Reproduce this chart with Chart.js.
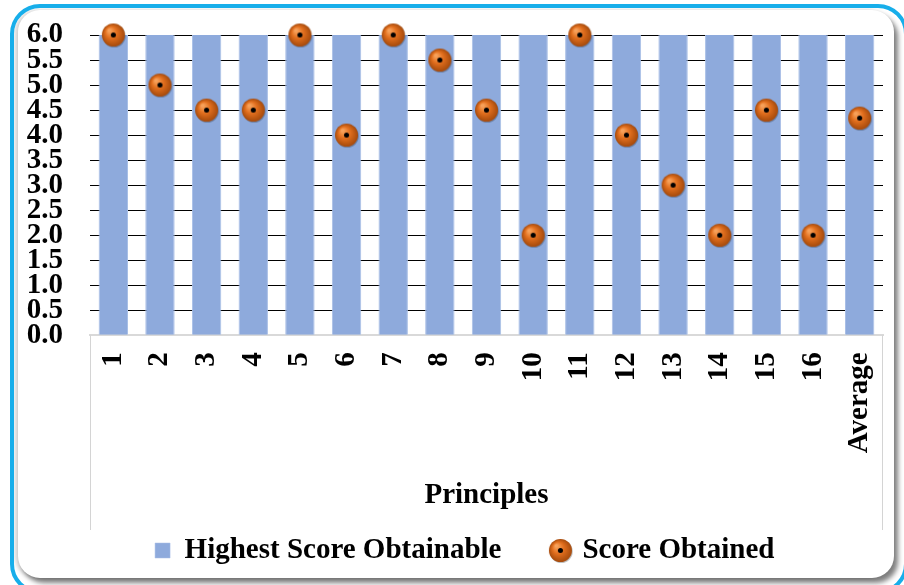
<!DOCTYPE html>
<html>
<head>
<meta charset="utf-8">
<script src="https://cdn.jsdelivr.net/npm/chart.js@4.4.1/dist/chart.umd.min.js"></script>
<style>
  html, body { margin: 0; padding: 0; background: #fff; overflow: hidden; }
  #frame {
    position: absolute; left: 10px; top: 4px; width: 898px; height: 590px;
    border: 4px solid #17aeea; border-radius: 30px; background: #fff;
    box-sizing: border-box; overflow: hidden;
  }
  #panel {
    position: absolute; left: 4px; top: 2px; width: 876px; height: 568px;
    border-radius: 22px; background: #fff;
    box-shadow: 4px 5px 5px rgba(0,0,0,0.5), -3px 0 4px rgba(0,0,0,0.18);
  }
  #wrap { position: absolute; left: 0; top: 0; width: 904px; height: 585px; }
</style>
</head>
<body>
<div id="frame"><div id="panel"></div></div>
<div id="wrap"><canvas id="chart" width="904" height="585"></canvas></div>
<script>
const principles = ["1","2","3","4","5","6","7","8","9","10","11","12","13","14","15","16","Average"];
const highestScore = [6,6,6,6,6,6,6,6,6,6,6,6,6,6,6,6,6];
const scoreObtained = [6,5,4.5,4.5,6,4,6,5.5,4.5,2,6,4,3,2,4.5,2,4.34];
const yTicks = ["0.0","0.5","1.0","1.5","2.0","2.5","3.0","3.5","4.0","4.5","5.0","5.5","6.0"];

const FONT = "'Liberation Serif', 'Times New Roman', serif";
const SIZE = 29;

// orange ball marker with a black centre dot
function makeBall(r) {
  const c = document.createElement("canvas");
  const s = Math.ceil(r * 2 + 4);
  c.width = s; c.height = s;
  const g = c.getContext("2d");
  const cx = s / 2, cy = s / 2;
  g.beginPath();
  g.arc(cx + 0.8, cy + 1, r, 0, Math.PI * 2);
  g.fillStyle = "rgba(0,0,0,0.25)";
  g.fill();
  const grad = g.createRadialGradient(cx - r * 0.35, cy - r * 0.4, r * 0.1, cx, cy, r);
  grad.addColorStop(0, "#f7a15a");
  grad.addColorStop(0.45, "#e26f1e");
  grad.addColorStop(1, "#a54a0c");
  g.beginPath();
  g.arc(cx, cy, r, 0, Math.PI * 2);
  g.fillStyle = grad;
  g.fill();
  g.beginPath();
  g.arc(cx, cy, r * 0.22, 0, Math.PI * 2);
  g.fillStyle = "#000";
  g.fill();
  return c;
}
const ball = makeBall(11.5);

// grey edge lines framing the category axis area
const axisFrame = {
  id: "axisFrame",
  afterDraw(chart) {
    const x = chart.scales.x, ctx = chart.ctx;
    ctx.save();
    ctx.strokeStyle = "#d4d4d4";
    ctx.lineWidth = 1;
    ctx.beginPath();
    ctx.moveTo(x.left + 0.5, x.top);
    ctx.lineTo(x.left + 0.5, x.bottom + 2);
    ctx.moveTo(x.right - 0.5, x.top);
    ctx.lineTo(x.right - 0.5, x.bottom + 2);
    ctx.stroke();
    ctx.restore();
  }
};

new Chart(document.getElementById("chart"), {
  data: {
    labels: principles,
    datasets: [
      {
        type: "scatter",
        label: "Score Obtained",
        data: scoreObtained,
        pointStyle: ball,
        pointRadius: 11,
        showLine: false,
        clip: false,
        order: 0
      },
      {
        type: "bar",
        label: "Highest Score Obtainable",
        data: highestScore,
        backgroundColor: "#8eaadc",
        borderColor: "#a9bfe6",
        borderWidth: { left: 1, right: 1, top: 0, bottom: 0 },
        categoryPercentage: 0.63,
        barPercentage: 1,
        pointStyle: "rect",
        order: 1
      }
    ]
  },
  options: {
    responsive: false,
    animation: false,
    layout: { autoPadding: false, padding: { left: 0, right: 21, top: 35, bottom: 10 } },
    plugins: {
      tooltip: { enabled: false },
      legend: {
        position: "bottom",
        fullSize: false,
        reverse: true,
        labels: {
          usePointStyle: true,
          boxWidth: 15,
          boxHeight: 15,
          padding: 8,
          color: "#000",
          font: { family: FONT, size: SIZE, weight: "bold" },
          generateLabels(chart) {
            const items = Chart.defaults.plugins.legend.labels.generateLabels(chart);
            // gap after the bar entry, trailing room after the last one
            items.forEach(it => { it.text += "\u2003\u2002"; });
            return items;
          }
        }
      }
    },
    scales: {
      x: {
        type: "category",
        offset: true,
        grid: { display: false },
        border: { color: "#d9d9d9", width: 2 },
        afterFit(axis) {
          axis.paddingLeft = 0;
          axis.paddingRight = 0;
        },
        ticks: {
          color: "#000",
          maxRotation: 90,
          minRotation: 90,
          padding: 9,
          font: { family: FONT, size: SIZE, weight: "bold" }
        },
        title: {
          display: true,
          text: "Principles",
          color: "#000",
          padding: { top: 16, bottom: 15 },
          font: { family: FONT, size: SIZE, weight: "bold" }
        }
      },
      y: {
        min: 0,
        max: 6,
        afterFit(axis) {
          axis.width = 90;
          axis.paddingTop = 0;
          axis.paddingBottom = 0;
        },
        grid: {
          drawTicks: false,
          color: ctx => ctx.index === 0 ? "rgba(0,0,0,0)" : "#000",
          lineWidth: 1
        },
        border: { display: false },
        ticks: {
          stepSize: 0.5,
          autoSkip: false,
          padding: 27,
          color: "#000",
          font: { family: FONT, size: SIZE, weight: "bold" },
          callback: (v, i) => yTicks[i]
        }
      }
    }
  },
  plugins: [axisFrame]
});
</script>
</body>
</html>
